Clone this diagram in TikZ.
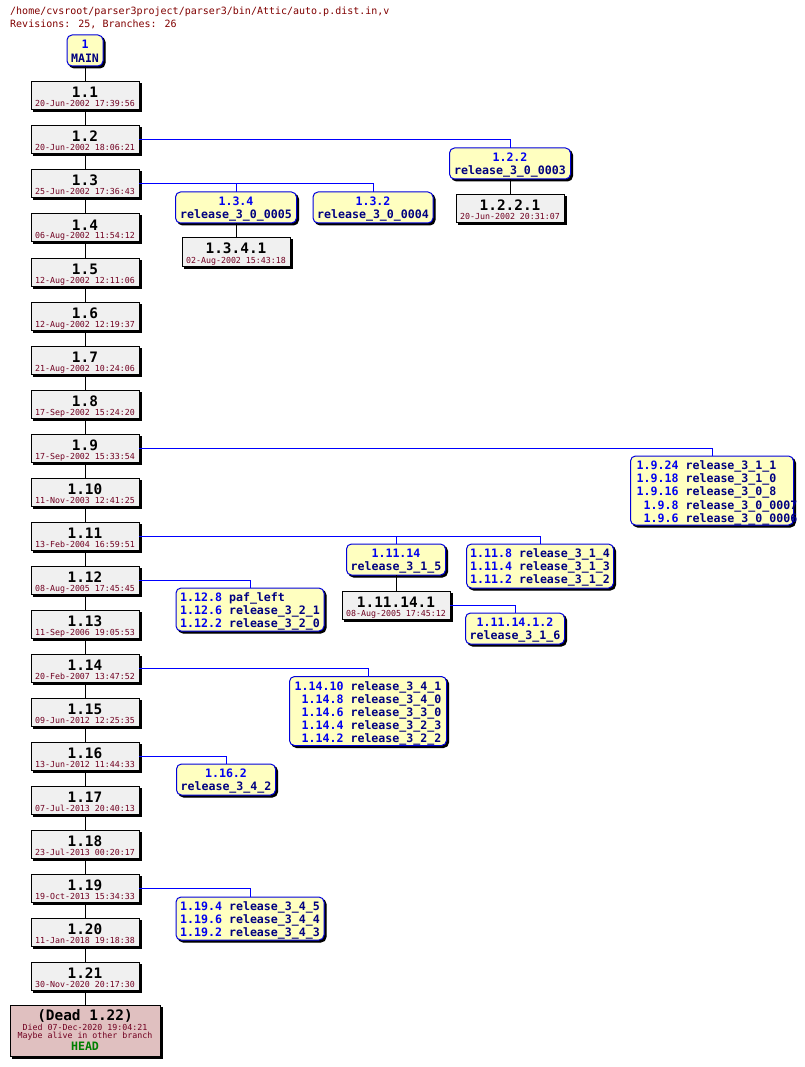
\documentclass[tikz,border=0pt]{standalone}
\usepackage{fontspec}
\newfontfamily\mono{DejaVu Sans Mono}
\definecolor{revblue}{RGB}{0,0,240}
\definecolor{tagnavy}{RGB}{0,0,128}
\definecolor{brline}{RGB}{0,0,255}
\definecolor{brborder}{RGB}{0,0,220}
\definecolor{datered}{RGB}{112,0,32}
\definecolor{hdrred}{RGB}{128,0,0}
\definecolor{revfill}{RGB}{240,240,240}
\definecolor{brfill}{RGB}{255,255,192}
\definecolor{deadfill}{RGB}{224,192,192}
\definecolor{headgreen}{RGB}{0,128,0}
\tikzset{
  shadowed/.style={preaction={fill=black,draw=black,transform canvas={shift={(2pt,-2pt)}}}},
  revbox/.style={draw=black,fill=revfill,line width=1pt,minimum width=108pt,minimum height=28pt,inner sep=0pt,outer sep=0pt,shadowed},
  brbox/.style={draw=brborder,fill=brfill,line width=1pt,rounded corners=5pt,inner sep=0pt,outer sep=0pt,shadowed},
  revnum/.style={anchor=base,inner sep=0pt,font=\mono\bfseries\fontsize{14.4}{16}\selectfont},
  revdate/.style={anchor=base,inner sep=0pt,text=datered,font=\mono\fontsize{8.3}{9}\selectfont},
  brtext/.style={inner sep=0pt,font=\mono\bfseries\fontsize{11.6}{13.2}\selectfont},
  hdr/.style={anchor=base west,inner sep=0pt,text=hdrred,font=\mono\fontsize{10}{12}\selectfont},
  trunk/.style={draw=black,line width=1pt},
  brconn/.style={draw=brline,line width=1pt},
}
\newcommand\rv[5]{%
  \node[revbox] (#1) at (#2,#3+14) {};
  \node[revnum] (#1n) at ([yshift=-16pt]#1.north) {#4};
  \node[revdate] (#1d) at ([yshift=-25pt]#1.north) {#5};
}
\newcommand\bt[2]{\begin{tabular}[t]{@{}c@{}}\textcolor{revblue}{#1}\\\textcolor{tagnavy}{#2}\end{tabular}}
\newcommand\R[2]{\textcolor{revblue}{#1} & \textcolor{tagnavy}{#2}}
\begin{document}
\begin{tikzpicture}[x=1pt,y=-1pt]
\useasboundingbox (0,0) rectangle (804,1067);
% header
\node[hdr] (h1) at (10,15) {/home/cvsroot/parser3project/parser3/bin/Attic/auto.p.dist.in,v};
\node[hdr] (h2) at (10,28) {Revisions: 25, Branches: 26};
% MAIN
\node[brbox,minimum width=36pt,minimum height=31pt] (main) at (85,50.5) {};
\node[brtext,anchor=base] (maint) at ([yshift=-14pt]main.north) {\bt{1}{MAIN}};
% trunk
\rv{r1}{85}{82}{1.1}{20-Jun-2002 17:39:56}
\rv{r2}{85}{126}{1.2}{20-Jun-2002 18:06:21}
\rv{r3}{85}{170}{1.3}{25-Jun-2002 17:36:43}
\rv{r4}{85}{214}{1.4}{06-Aug-2002 11:54:12}
\rv{r5}{85}{258}{1.5}{12-Aug-2002 12:11:06}
\rv{r6}{85}{302}{1.6}{12-Aug-2002 12:19:37}
\rv{r7}{85}{346}{1.7}{21-Aug-2002 10:24:06}
\rv{r8}{85}{390}{1.8}{17-Sep-2002 15:24:20}
\rv{r9}{85}{434}{1.9}{17-Sep-2002 15:33:54}
\rv{r10}{85}{478}{1.10}{11-Nov-2003 12:41:25}
\rv{r11}{85}{522}{1.11}{13-Feb-2004 16:59:51}
\rv{r12}{85}{566}{1.12}{08-Aug-2005 17:45:45}
\rv{r13}{85}{610}{1.13}{11-Sep-2006 19:05:53}
\rv{r14}{85}{654}{1.14}{20-Feb-2007 13:47:52}
\rv{r15}{85}{698}{1.15}{09-Jun-2012 12:25:35}
\rv{r16}{85}{742}{1.16}{13-Jun-2012 11:44:33}
\rv{r17}{85}{786}{1.17}{07-Jul-2013 20:40:13}
\rv{r18}{85}{830}{1.18}{23-Jul-2013 00:20:17}
\rv{r19}{85}{874}{1.19}{19-Oct-2013 15:34:33}
\rv{r20}{85}{918}{1.20}{11-Jan-2018 19:18:38}
\rv{r21}{85}{962}{1.21}{30-Nov-2020 20:17:30}
% dead
\node[revbox,fill=deadfill,minimum width=150pt,minimum height=51pt] (dead) at (85,1030.5) {};
\node[revnum] (deadn) at ([yshift=-15pt]dead.north) {(Dead 1.22)};
\node[revdate] (dead1) at ([yshift=-25pt]dead.north) {Died 07-Dec-2020 19:04:21};
\node[revdate] (dead2) at ([yshift=-33pt]dead.north) {Maybe alive in other branch};
\node[brtext,anchor=base,text=headgreen] (deadh) at ([yshift=-45.5pt]dead.north) {HEAD};
% trunk connectors
\draw[trunk] (main.south) -- (r1.north);
\foreach \a/\b in {r1/r2,r2/r3,r3/r4,r4/r5,r5/r6,r6/r7,r7/r8,r8/r9,r9/r10,r10/r11,r11/r12,r12/r13,r13/r14,r14/r15,r15/r16,r16/r17,r17/r18,r18/r19,r19/r20,r20/r21,r21/dead}
  \draw[trunk] (\a.south) -- (\b.north);
% branch 1.2.2
\node[brbox,minimum width=121pt,minimum height=31pt] (b122) at (510,163.5) {};
\node[brtext,anchor=base] (b122t) at ([yshift=-13.5pt]b122.north) {\bt{1.2.2}{release\_3\_0\_0003}};
\rv{r1221}{510}{195}{1.2.2.1}{20-Jun-2002 20:31:07}
\draw[brconn] (r2.east) -| (b122.north);
\draw[trunk] (b122.south) -- (r1221.north);
% branches from 1.3
\node[brbox,minimum width=121pt,minimum height=31pt] (b134) at (236,207.5) {};
\node[brtext,anchor=base] (b134t) at ([yshift=-13.5pt]b134.north) {\bt{1.3.4}{release\_3\_0\_0005}};
\node[brbox,minimum width=120pt,minimum height=31pt] (b132) at (373,207.5) {};
\node[brtext,anchor=base] (b132t) at ([yshift=-13.5pt]b132.north) {\bt{1.3.2}{release\_3\_0\_0004}};
\rv{r1341}{236}{238}{1.3.4.1}{02-Aug-2002 15:43:18}
\draw[brconn] (r3.east) -| (b132.north);
\draw[brconn] (r3.east) -| (b134.north);
\draw[trunk] (b134.south) -- (r1341.north);
% branch 1.9
\node[brbox,minimum width=163pt,minimum height=69pt] (b19) at (712,490.5) {};
\begin{scope}
\clip ([xshift=-6pt,yshift=6pt]b19.north west) rectangle ([xshift=3pt]b19.south east);
\node[brtext,anchor=base west] (b19t) at ([xshift=6pt,yshift=-13.5pt]b19.north west)
 {\begin{tabular}[t]{@{}r@{ }l@{}}\R{1.9.24}{release\_3\_1\_1}\\\R{1.9.18}{release\_3\_1\_0}\\\R{1.9.16}{release\_3\_0\_8}\\\R{1.9.8}{release\_3\_0\_0007}\\\R{1.9.6}{release\_3\_0\_0006}\end{tabular}};
\end{scope}
\draw[brconn] (r9.east) -| (b19.north);
% branches from 1.11
\node[brbox,minimum width=99pt,minimum height=31pt] (b1114) at (396,559.5) {};
\node[brtext,anchor=base] (b1114t) at ([yshift=-13.5pt]b1114.north) {\bt{1.11.14}{release\_3\_1\_5}};
\node[brbox,minimum width=147pt,minimum height=44pt] (b1118) at (540,566) {};
\node[brtext,anchor=base] (b1118t) at ([yshift=-13.5pt]b1118.north)
 {\begin{tabular}[t]{@{}r@{ }l@{}}\R{1.11.8}{release\_3\_1\_4}\\\R{1.11.4}{release\_3\_1\_3}\\\R{1.11.2}{release\_3\_1\_2}\end{tabular}};
\draw[brconn] (r11.east) -| (b1118.north);
\draw[brconn] (r11.east) -| (b1114.north);
\rv{r11141}{396}{591}{1.11.14.1}{08-Aug-2005 17:45:12}
\draw[trunk] (b1114.south) -- (r11141.north);
\node[brbox,minimum width=99pt,minimum height=31pt] (b111412) at (515,628.5) {};
\node[brtext,anchor=base] (b111412t) at ([yshift=-13.5pt]b111412.north) {\bt{1.11.14.1.2}{release\_3\_1\_6}};
\draw[brconn] (r11141.east) -| (b111412.north);
% branch 1.12
\node[brbox,minimum width=148pt,minimum height=43pt] (b112) at (250,609.5) {};
\node[brtext,anchor=base] (b112t) at ([yshift=-13.5pt]b112.north)
 {\begin{tabular}[t]{@{}r@{ }l@{}}\R{1.12.8}{paf\_left}\\\R{1.12.6}{release\_3\_2\_1}\\\R{1.12.2}{release\_3\_2\_0}\end{tabular}};
\draw[brconn] (r12.east) -| (b112.north);
% branch 1.14
\node[brbox,minimum width=157pt,minimum height=69pt] (b114) at (368,711) {};
\node[brtext,anchor=base] (b114t) at ([yshift=-13.5pt]b114.north)
 {\begin{tabular}[t]{@{}r@{ }l@{}}\R{1.14.10}{release\_3\_4\_1}\\\R{1.14.8}{release\_3\_4\_0}\\\R{1.14.6}{release\_3\_3\_0}\\\R{1.14.4}{release\_3\_2\_3}\\\R{1.14.2}{release\_3\_2\_2}\end{tabular}};
\draw[brconn] (r14.east) -| (b114.north);
% branch 1.16
\node[brbox,minimum width=99pt,minimum height=31pt] (b116) at (226,779.5) {};
\node[brtext,anchor=base] (b116t) at ([yshift=-13.5pt]b116.north) {\bt{1.16.2}{release\_3\_4\_2}};
\draw[brconn] (r16.east) -| (b116.north);
% branch 1.19
\node[brbox,minimum width=148pt,minimum height=43pt] (b119) at (250,918.5) {};
\node[brtext,anchor=base] (b119t) at ([yshift=-13.5pt]b119.north)
 {\begin{tabular}[t]{@{}r@{ }l@{}}\R{1.19.4}{release\_3\_4\_5}\\\R{1.19.6}{release\_3\_4\_4}\\\R{1.19.2}{release\_3\_4\_3}\end{tabular}};
\draw[brconn] (r19.east) -| (b119.north);
\end{tikzpicture}
\end{document}
